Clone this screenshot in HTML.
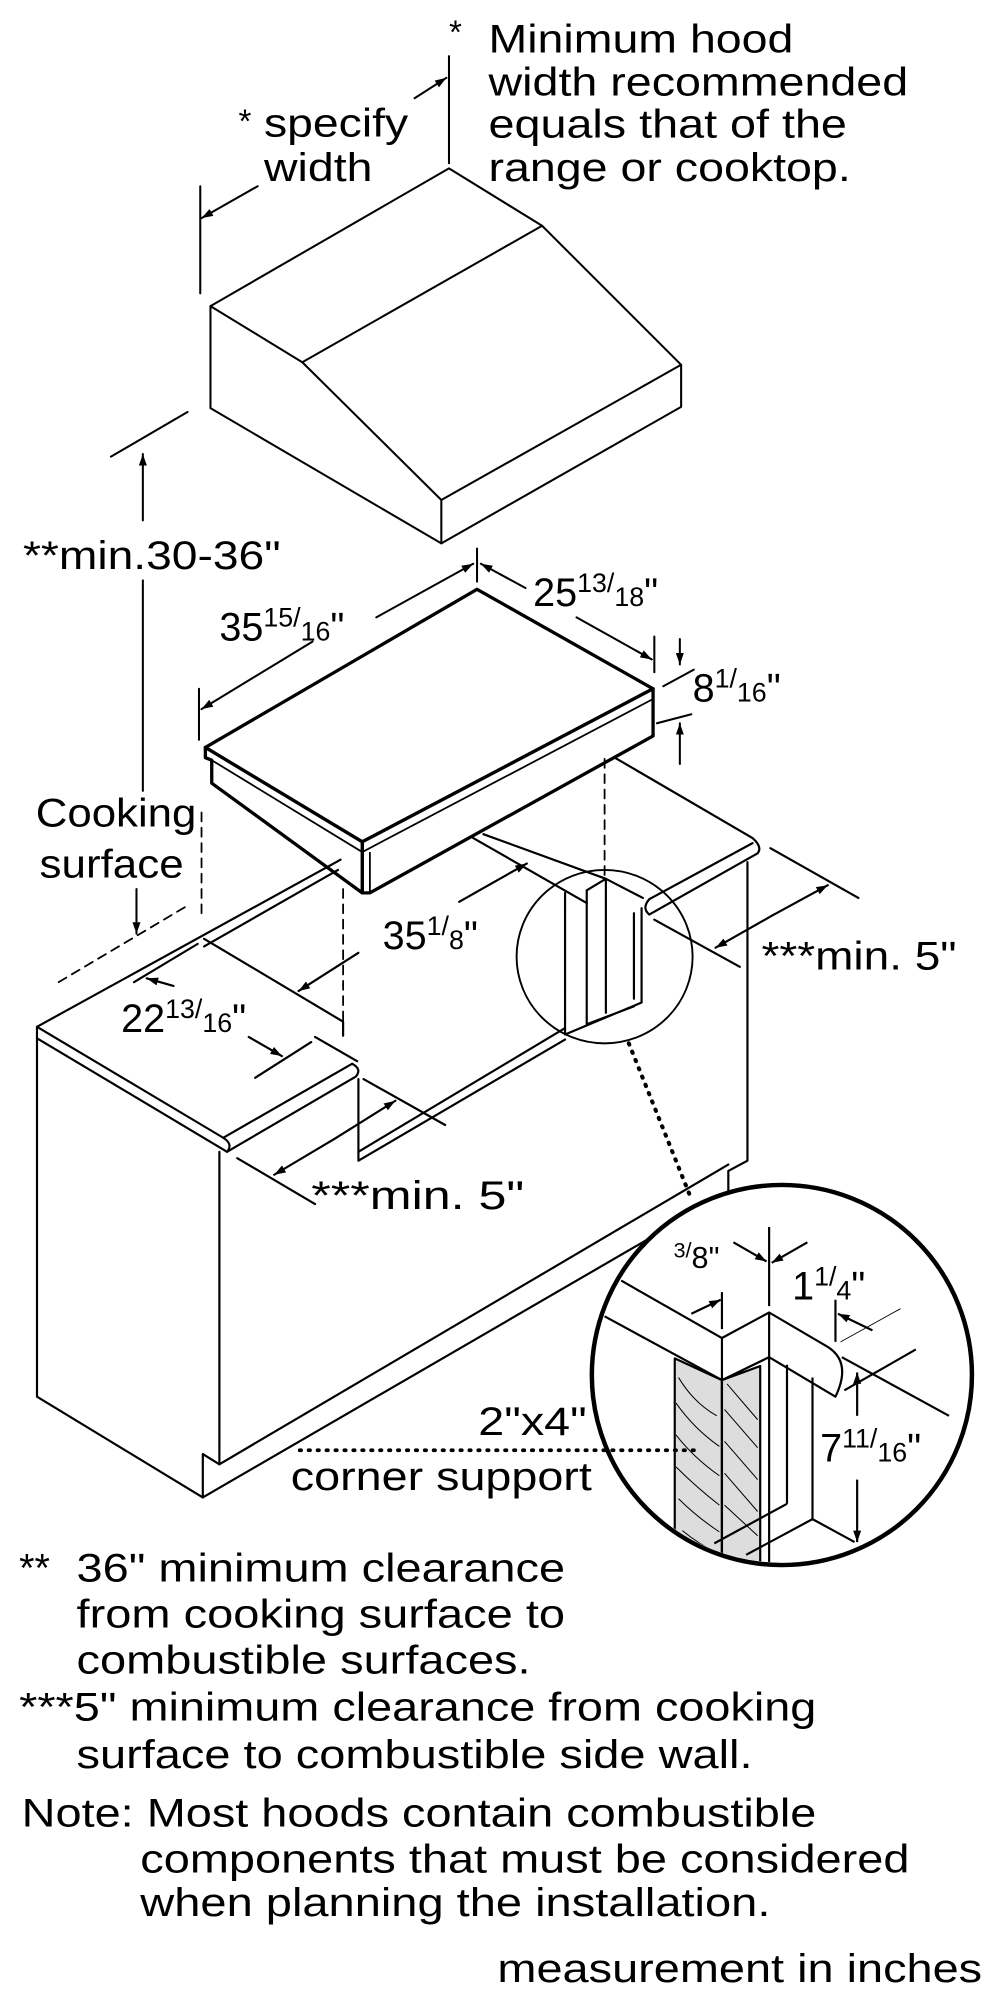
<!DOCTYPE html>
<html><head><meta charset="utf-8"><style>
html,body{margin:0;padding:0;background:#fff;}
svg{display:block;}
text{font-family:"Liberation Sans Narrow","Liberation Sans",sans-serif;fill:#000;}
</style></head><body>
<svg width="1000" height="2000" viewBox="0 0 784 1568" preserveAspectRatio="none" xmlns="http://www.w3.org/2000/svg">
<defs>
<marker id="ah" viewBox="0 0 10 10" refX="10" refY="5" markerWidth="9" markerHeight="9" markerUnits="userSpaceOnUse" orient="auto">
<path d="M0,1.5 L10,5 L0,8.5 z" fill="#000"/>
</marker>
</defs>
<g fill="none" stroke="#000" stroke-width="1.6" stroke-linejoin="round" stroke-linecap="round">
<path d="M165,240 L352,132 L425,177 L534,286 L534,319 L346,426 L165,320 Z"/>
<path d="M165,240 L237,284 L425,177 M237,284 L346,392 L534,286 M346,392 L346,426"/>
<path d="M352,44 V128 M157,146 V230"/>
<path d="M325,77 L350,61" marker-end="url(#ah)"/>
<path d="M202,146 L158,171" marker-end="url(#ah)"/>
<path d="M147,323 L87,358"/>
<path d="M112,408 V356" marker-end="url(#ah)"/>
<path d="M112,455 V620"/>
<path d="M107,697 V732" marker-end="url(#ah)"/>
<path d="M374,430 V456 M513,499 V527 M156,540 V580"/>
<path d="M295,484 L371,442" marker-end="url(#ah)"/>
<path d="M245,503 L158,556" marker-end="url(#ah)"/>
<path d="M412,461 L377,442" marker-end="url(#ah)"/>
<path d="M452,484 L511,517" marker-end="url(#ah)"/>
<path d="M533,501 V521" marker-end="url(#ah)"/>
<path d="M533,599 V567" marker-end="url(#ah)"/>
<path d="M520,538 L544,525 M515,567 L542,560"/>
</g>
<g fill="#fff" stroke="#000" stroke-width="2.6" stroke-linejoin="round">
<path d="M161,586 L374,462 L512,540 L284,660 Z"/>
<path d="M284,660 L512,540 L512,577 L290,700 L284,700 Z"/>
<path d="M161,586 L284,660 L284,700 L166,614 L166,596 L161,594 Z"/>
</g>
<g fill="none" stroke="#000" stroke-width="1.4">
<path d="M166,596 L284,668 L512,548"/>
<path d="M290,668 L290,700"/>
</g>
<g fill="none" stroke="#000" stroke-width="1.7" stroke-linejoin="round" stroke-linecap="round">
<path d="M29,805 L267,674 M160,742 L265,682 M160,736 L269,801 L269,812 M247,813 L280,832"/>
<path d="M29,805 L175,892 Q183,897 178,903 L29,814 Z"/>
<path d="M175,892 L276,834 Q284,838 279,844 L178,903"/>
<path d="M29,814 V1095 L159,1174 V1140 L172,1148 V903"/>
<path d="M172,1148 L571,913 M159,1174 L571,935 M586,676 V910 L571,918 V935"/>
<path d="M281,846 V910 L443,815 M281,903 L443,806"/>
<path d="M482,594 L590,657 Q598,664 594,669 L509,717 Q503,712 509,705 L590,661"/>
<path d="M371,657 L460,708 M379,654 L475,689 L504,704"/>
<path d="M443,700 V811 M460,698 V803 M475,689 V794 M497,716 V783 M503,712 V786 M460,698 L475,689 M443,811 L503,786 M460,803 L497,789"/>
<ellipse cx="474" cy="750" rx="69" ry="68" stroke-width="1.5"/>
<path d="M158,637 V719 M46,770 L147,710 M269,697 V801 M474,595 V688" stroke-dasharray="7,5" stroke-width="1.4"/>
<path d="M105,770 L155,740 M200,845 L244,817 M186,908 L247,944 M285,846 L349,882 M513,721 L580,758 M604,665 L673,704"/>
<path d="M136,773 L115,767" marker-end="url(#ah)"/>
<path d="M195,813 L221,828" marker-end="url(#ah)"/>
<path d="M281,747 L234,777" marker-end="url(#ah)"/>
<path d="M360,707 L413,677" marker-end="url(#ah)"/>
<path d="M262,893 L310,863" marker-end="url(#ah)"/>
<path d="M262,893 L215,921" marker-end="url(#ah)"/>
<path d="M605,718 L649,694" marker-end="url(#ah)"/>
<path d="M605,718 L561,743" marker-end="url(#ah)"/>
<path d="M493,818 L542,940" stroke-dasharray="1,6" stroke-width="3.2"/>
</g>
<ellipse cx="613" cy="1078" rx="149" ry="149" fill="#fff" stroke="#000" stroke-width="3.5"/>
<clipPath id="cc"><ellipse cx="613" cy="1078" rx="147" ry="147"/></clipPath>
<g clip-path="url(#cc)" fill="none" stroke="#000" stroke-width="1.7" stroke-linejoin="round">
<path d="M529,1065 L566,1082 V1240 H529 Z" fill="#ddd"/>
<path d="M566,1082 L596,1071 V1240 H566 Z" fill="#ddd"/>
<g stroke-width="0.8">
<path d="M532,1080 q12,20 30,30 M530,1100 q14,20 34,34 M530,1125 q14,18 34,32 M530,1150 q16,16 34,30 M532,1175 q14,14 32,26 M535,1200 q12,10 28,18"/>
<path d="M570,1085 l24,28 M568,1105 l26,30 M568,1130 l26,30 M568,1155 l26,30 M568,1180 l26,24"/>
</g>
<path d="M487,1004 L566,1049 L603,1029 L649,1056 Q668,1068 655,1095 L603,1064 L566,1082 L474,1032"/>
<path d="M566,1049 V1240 M603,1029 V1064 M603,1064 V1240 M617,1070 V1179 M637,1080 V1191 M560,1210 L617,1179 M585,1219 L637,1191 L670,1209"/>
<path d="M566,1013 V1042 M603,962 V1024 M655,1019 V1052"/>
<path d="M660,1064 L744,1110 M662,1090 L718,1058"/>
<path d="M659,1052 L706,1026" stroke-width="0.7"/>
<path d="M542,1030 L565,1019" marker-end="url(#ah)"/>
<path d="M575,974 L601,989" marker-end="url(#ah)"/>
<path d="M633,974 L605,990" marker-end="url(#ah)"/>
<path d="M684,1043 L657,1030" marker-end="url(#ah)"/>
<path d="M672,1110 V1076" marker-end="url(#ah)"/>
<path d="M672,1160 V1209" marker-end="url(#ah)"/>
</g>
<path d="M235,1137 H548" fill="none" stroke="#000" stroke-dasharray="1,6" stroke-width="3" stroke-linecap="round"/>
<g font-size="31">
<text x="352" y="34" font-size="26">*</text>
<text x="383" y="41" textLength="239" lengthAdjust="spacingAndGlyphs">Minimum hood</text>
<text x="383" y="75" textLength="329" lengthAdjust="spacingAndGlyphs">width recommended</text>
<text x="383" y="108" textLength="281" lengthAdjust="spacingAndGlyphs">equals that of the</text>
<text x="383" y="142" textLength="284" lengthAdjust="spacingAndGlyphs">range or cooktop.</text>
<text x="187" y="104" font-size="26">*</text>
<text x="207" y="107" textLength="113" lengthAdjust="spacingAndGlyphs">specify</text>
<text x="207" y="142" textLength="85" lengthAdjust="spacingAndGlyphs">width</text>
<text x="18" y="446" textLength="202" lengthAdjust="spacingAndGlyphs">**min.30-36"</text>
<text x="172" y="502">35<tspan font-size="21" dy="-11">15/</tspan><tspan font-size="21" dy="11">16</tspan>"</text>
<text x="418" y="475">25<tspan font-size="21" dy="-11">13/</tspan><tspan font-size="21" dy="11">18</tspan>"</text>
<text x="543" y="550">8<tspan font-size="21" dy="-11">1/</tspan><tspan font-size="21" dy="11">16</tspan>"</text>
<text x="28" y="648" textLength="126" lengthAdjust="spacingAndGlyphs">Cooking</text>
<text x="31" y="688" textLength="113" lengthAdjust="spacingAndGlyphs">surface</text>
<text x="300" y="744">35<tspan font-size="21" dy="-11">1/</tspan><tspan font-size="21" dy="11">8</tspan>"</text>
<text x="597" y="760" textLength="153" lengthAdjust="spacingAndGlyphs">***min. 5"</text>
<text x="95" y="809">22<tspan font-size="21" dy="-11">13/</tspan><tspan font-size="21" dy="11">16</tspan>"</text>
<text x="244" y="948" textLength="167" lengthAdjust="spacingAndGlyphs">***min. 5"</text>
<text x="528" y="994" font-size="24"><tspan font-size="17" dy="-8">3/</tspan><tspan dy="8">8"</tspan></text>
<text x="621" y="1019">1<tspan font-size="21" dy="-11">1/</tspan><tspan font-size="21" dy="11">4</tspan>"</text>
<text x="643" y="1146">7<tspan font-size="21" dy="-11">11/</tspan><tspan font-size="21" dy="11">16</tspan>"</text>
<text x="375" y="1125" textLength="85" lengthAdjust="spacingAndGlyphs">2"x4"</text>
<text x="228" y="1168" textLength="236" lengthAdjust="spacingAndGlyphs">corner support</text>
<text x="15" y="1240">**</text>
<text x="60" y="1240" textLength="383" lengthAdjust="spacingAndGlyphs">36" minimum clearance</text>
<text x="60" y="1276" textLength="383" lengthAdjust="spacingAndGlyphs">from cooking surface to</text>
<text x="60" y="1312" textLength="356" lengthAdjust="spacingAndGlyphs">combustible surfaces.</text>
<text x="15" y="1349" textLength="625" lengthAdjust="spacingAndGlyphs">***5" minimum clearance from cooking</text>
<text x="60" y="1386" textLength="530" lengthAdjust="spacingAndGlyphs">surface to combustible side wall.</text>
<text x="17" y="1432" textLength="623" lengthAdjust="spacingAndGlyphs">Note: Most hoods contain combustible</text>
<text x="110" y="1468" textLength="603" lengthAdjust="spacingAndGlyphs">components that must be considered</text>
<text x="110" y="1502" textLength="494" lengthAdjust="spacingAndGlyphs">when planning the installation.</text>
<text x="390" y="1554" textLength="380" lengthAdjust="spacingAndGlyphs">measurement in inches</text>
</g>
</svg>
</body></html>
